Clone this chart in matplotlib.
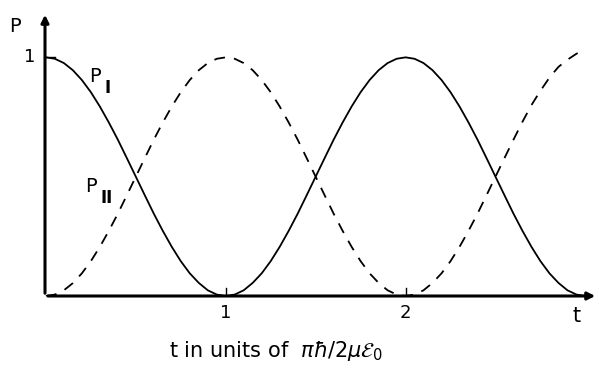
import matplotlib.pyplot as plt
import numpy as np

# Valores (t en unidades de pi*hbar/2*mu*E0).
t = [0.0, 0.05, 0.1, 0.15, 0.2, 0.25, 0.3, 0.35, 0.4, 0.45, 0.5,
     0.55, 0.6, 0.65, 0.7, 0.75, 0.8, 0.85, 0.9, 0.95, 1.0,
     1.05, 1.1, 1.15, 1.2, 1.25, 1.3, 1.35, 1.4, 1.45, 1.5,
     1.55, 1.6, 1.65, 1.7, 1.75, 1.8, 1.85, 1.9, 1.95, 2.0,
     2.05, 2.1, 2.15, 2.2, 2.25, 2.3, 2.35, 2.4, 2.45, 2.5,
     2.55, 2.6, 2.65, 2.7, 2.75, 2.8, 2.85, 2.9, 2.95, 3.0]

p1 = [1.0, 0.994, 0.976, 0.946, 0.905, 0.854, 0.794, 0.727, 0.655, 0.578, 0.5,
      0.422, 0.345, 0.273, 0.206, 0.146, 0.095, 0.055, 0.024, 0.006, 0.0,
      0.006, 0.024, 0.055, 0.095, 0.146, 0.206, 0.273, 0.345, 0.422, 0.5,
      0.578, 0.655, 0.727, 0.794, 0.854, 0.905, 0.946, 0.976, 0.994, 1.0,
      0.994, 0.976, 0.946, 0.905, 0.854, 0.794, 0.727, 0.655, 0.578, 0.5,
      0.422, 0.345, 0.273, 0.206, 0.146, 0.095, 0.055, 0.024, 0.006, 0.0]

p2 = [0.0, 0.006, 0.024, 0.054, 0.095, 0.146, 0.206, 0.273, 0.345, 0.422, 0.5,
      0.578, 0.655, 0.727, 0.794, 0.854, 0.905, 0.946, 0.976, 0.994, 1.0,
      0.994, 0.976, 0.946, 0.905, 0.854, 0.794, 0.727, 0.655, 0.578, 0.5,
      0.422, 0.345, 0.273, 0.206, 0.146, 0.095, 0.055, 0.024, 0.006, 0.0,
      0.006, 0.024, 0.055, 0.095, 0.146, 0.206, 0.273, 0.345, 0.422, 0.5,
      0.578, 0.655, 0.73, 0.80, 0.86, 0.915, 0.96, 0.99, 1.015, 1.035]

xticks = [1, 2]

fig = plt.figure(figsize=(5.99, 3.68), dpi=100)
ax = fig.add_axes([45/599, 72/368, 553/599, 284/368])

ax.plot(t, p1, color="black", lw=1.3)
ax.plot(t, p2, color="black", lw=1.3, ls=(0, (6, 5)))

ax.set_xlim(-0.005, 3.07)
ax.set_ylim(0, 1.19)
for s in ax.spines.values():
    s.set_visible(False)
ax.set_xticks([])
ax.set_yticks([])

# Ejes con flechas.
ax.annotate("", xy=(3.07, 0), xytext=(-0.005, 0),
            arrowprops=dict(arrowstyle="-|>", color="black", lw=2.2, mutation_scale=11),
            annotation_clip=False)
ax.annotate("", xy=(-0.005, 1.19), xytext=(-0.005, 0),
            arrowprops=dict(arrowstyle="-|>", color="black", lw=2.2, mutation_scale=11),
            annotation_clip=False)

# Marcas.
for x in xticks:
    ax.plot([x, x], [0, 0.035], color="black", lw=1)
    ax.text(x, -0.035, str(x), ha="center", va="top", fontsize=13)
ax.plot([0, 0.05], [1, 1], color="black", lw=1)
ax.text(-0.09, 1.0, "1", ha="center", va="center", fontsize=13)

ax.text(-0.17, 1.13, "P", ha="center", va="center", fontsize=14, clip_on=False)
ax.text(2.95, -0.04, "t", ha="center", va="top", fontsize=15)
ax.text(0.24, 0.92, "P", fontsize=14, ha="left", va="center")
ax.text(0.325, 0.87, "I", fontsize=12, ha="left", va="center", fontweight="bold")
ax.text(0.22, 0.46, "P", fontsize=14, ha="left", va="center")
ax.text(0.305, 0.41, "II", fontsize=12, ha="left", va="center", fontweight="bold")

fig.text(0.46, 0.045, r"t in units of  $\pi\hbar/2\mu\mathcal{E}_0$",
         ha="center", va="center", fontsize=15)

plt.savefig("out.png")
